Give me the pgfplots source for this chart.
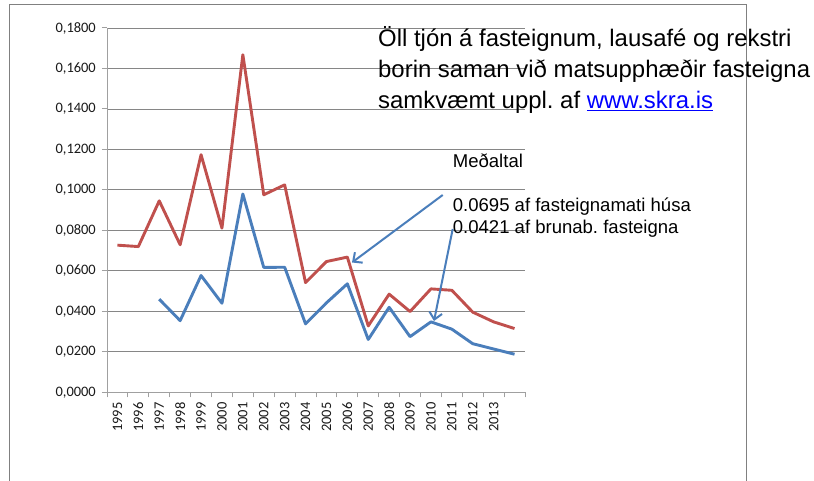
\documentclass[border=0pt]{standalone}
\usepackage{pgfplots}
\pgfplotsset{compat=1.18}
\usepackage{pgfplotstable}
\usepackage{fontspec}
\setmainfont{Liberation Sans}
\newfontfamily\carlito{Carlito}
\usetikzlibrary{arrows.meta}
\definecolor{exred}{RGB}{192,80,77}
\definecolor{exblue}{RGB}{74,126,187}
\definecolor{gridgray}{RGB}{134,134,134}
\definecolor{axgray}{RGB}{160,160,160}
\definecolor{framegray}{RGB}{128,128,128}
\definecolor{linkblue}{RGB}{0,0,255}
\newcommand\ulink[1]{\setbox0\hbox{#1}\rlap{\rule[-2.8bp]{\wd0}{1.7bp}}\box0}
\frenchspacing

\pgfplotstableread{
x y
0 0.0727
1 0.0720
2 0.0946
3 0.0729
4 0.1174
5 0.0811
6 0.1668
7 0.0976
8 0.1025
9 0.0542
10 0.0646
11 0.0668
12 0.0328
13 0.0485
14 0.0399
15 0.0511
16 0.0504
17 0.0396
18 0.0348
19 0.0315
}\redtable

\pgfplotstableread{
x y
2 0.0460
3 0.0354
4 0.0577
5 0.0440
6 0.0980
7 0.0617
8 0.0618
9 0.0338
10 0.0442
11 0.0536
12 0.0261
13 0.0420
14 0.0275
15 0.0348
16 0.0312
17 0.0240
18 0.0214
19 0.0188
}\bluetable

\begin{document}
\begin{tikzpicture}
\path[use as bounding box] (0bp,0bp) rectangle (814bp,481bp);
\fill[white] (0bp,0bp) rectangle (814bp,481bp);
\draw[framegray, line width=1bp] (9.5bp,0bp) -- (9.5bp,476.3bp) -- (746.5bp,476.3bp) -- (746.5bp,0bp);
\begin{axis}[
  at={(107bp,88.7bp)}, anchor=south west,
  scale only axis, width=418bp, height=364.3bp,
  xmin=-0.5, xmax=19.5, ymin=0, ymax=0.18,
  axis x line*=bottom, axis y line*=left,
  axis line style={-, draw=axgray, line width=1bp},
  xtick={0,...,18},
  xticklabels={1995,1996,1997,1998,1999,2000,2001,2002,2003,2004,2005,2006,2007,2008,2009,2010,2011,2012,2013},
  minor xtick={-0.5,0.5,...,19.5},
  major x tick style={draw=none},
  minor x tick style={draw=axgray, line width=1bp},
  ytick={0,0.02,...,0.18},
  y tick style={draw=axgray, line width=1bp},
  tick align=outside,
  major tick length=5bp, minor tick length=5bp,
  ymajorgrids,
  grid style={draw=gridgray, line width=0.9bp},
  /pgf/number format/assume math mode=true,
  y tick label style={/pgf/number format/fixed, /pgf/number format/fixed zerofill, /pgf/number format/precision=4, /pgf/number format/use comma},
  ticklabel style={font=\carlito\fontsize{14.5}{15}\selectfont, text=black!90},
  xticklabel style={rotate=90, anchor=east, inner sep=0pt, xshift=-5bp},
  yticklabel style={anchor=east, inner sep=0pt, xshift=-6bp},
  clip=false,
]
\addplot[exblue, line width=2.9bp, line join=round] table[x=x,y=y] {\bluetable};
\addplot[exred, line width=2.9bp, line join=round] table[x=x,y=y] {\redtable};
\end{axis}
% title text
\begin{scope}[every node/.style={inner sep=0pt, anchor=base west, font=\fontsize{24}{28}\selectfont}]
\node at (378bp,434.3bp) {Öll tjón á fasteignum, lausafé og rekstri};
\node at (378bp,403.3bp) {borin saman við matsupphæðir fasteigna};
\node at (378bp,372.3bp) {samkvæmt uppl. af \textcolor{linkblue}{\ulink{www.skra.is}}};
\end{scope}
% annotations
\begin{scope}[every node/.style={inner sep=0pt, anchor=base west, font=\fontsize{18.6}{22}\selectfont}]
\node at (452.7bp,313.3bp) {Meðaltal};
\node at (452.7bp,269.3bp) {0.0695 af fasteignamati húsa};
\node at (452.7bp,247bp) {0.0421 af brunab. fasteigna};
\end{scope}
\draw[exblue, line width=2bp, -{Straight Barb[length=7bp,width=13bp]}] (442.7bp,286bp) -- (352bp,218.5bp);
\draw[exblue, line width=2bp, -{Straight Barb[length=7bp,width=13bp]}] (452.7bp,252bp) -- (434bp,160bp);
\end{tikzpicture}
\end{document}
